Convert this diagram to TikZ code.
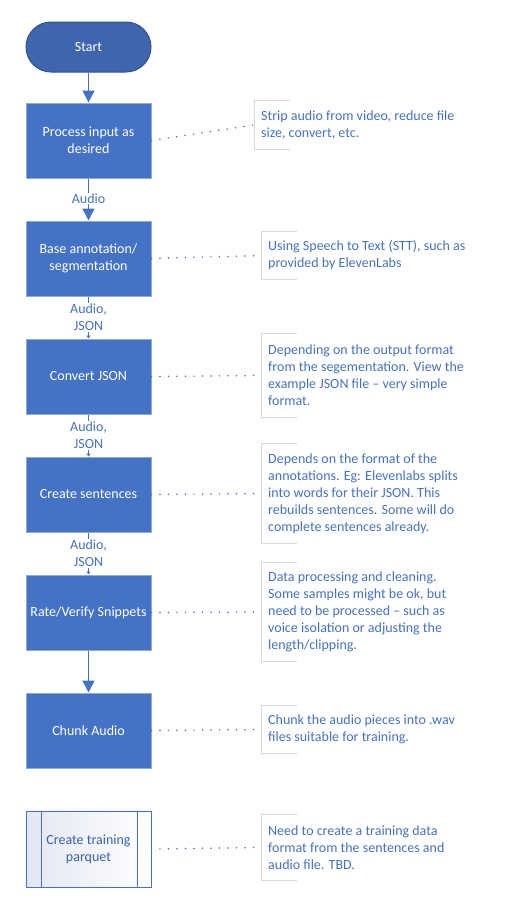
\documentclass[tikz,border=0pt]{standalone}
\usepackage{fontspec}
\setmainfont{Carlito}
\usetikzlibrary{arrows.meta}

\definecolor{boxblue}{HTML}{4472C4}
\definecolor{boxedge}{HTML}{8FAADC}
\definecolor{startblue}{HTML}{3F65AC}
\definecolor{startedge}{HTML}{2F528F}
\definecolor{prefill}{HTML}{E3E7F3}
\definecolor{pretext}{HTML}{3A62B0}
\definecolor{bracketgray}{HTML}{D9D9D9}

\begin{document}
\begin{tikzpicture}[x=1pt,y=-1pt,font=\fontsize{14}{17}\selectfont,
	stepbox/.style={rectangle,minimum width=125pt,minimum height=75pt,inner sep=0pt,
		fill=boxblue,draw=boxedge,line width=1pt,text=white,align=center},
	startbox/.style={rectangle,rounded corners=25pt,minimum width=125pt,minimum height=50pt,
		fill=startblue,draw=startedge,line width=1pt,text=white},
	prebox/.style={rectangle,minimum width=125pt,minimum height=76pt,inner sep=0pt,
		left color=prefill,right color=white,draw=boxblue,line width=1pt,text=pretext,align=center},
	remark/.style={anchor=west,align=left,inner xsep=7pt,inner ysep=0pt,
		minimum height=#1,text=boxblue},
	bracket/.style={draw=bracketgray,line width=1pt},
	flow/.style={draw=boxblue,line width=1.5pt},
	bigtip/.style={-{Triangle[width=12pt,length=12pt]}},
	smalltip/.style={-{Triangle[width=4pt,length=3pt]}},
	datalbl/.style={fill=white,text=boxblue,align=center,inner sep=1pt},
	dots/.style={draw=boxblue,line width=1.7pt,line cap=round,dash pattern=on 0pt off 8.5pt}]
	\useasboundingbox (0,0) rectangle (509,902);

	\node[startbox] (start) at (88.5,47) {Start};
	\node[stepbox] (b1) at (88.5,140.5) {Process input as\\desired};
	\node[stepbox] (b2) at (88.5,258.5) {Base annotation/\\segmentation};
	\node[stepbox] (b3) at (88.5,376.5) {Convert JSON};
	\node[stepbox] (b4) at (88.5,494.5) {Create sentences};
	\node[stepbox] (b5) at (88.5,612.5) {Rate/Verify Snippets};
	\node[stepbox] (b6) at (88.5,730.5) {Chunk Audio};
	\node[prebox] (b7) at (88.5,849) {Create training\\parquet};
	\draw[boxblue,line width=1pt] ([xshift=16pt]b7.north west) -- ([xshift=16pt]b7.south west);
	\draw[boxblue,line width=1pt] ([xshift=-14pt]b7.north east) -- ([xshift=-14pt]b7.south east);

	\draw[flow,bigtip] (start) -- (b1);
	\draw[flow,bigtip] (b1) -- (b2) node[midway,datalbl,yshift=1pt] {Audio};
	\draw[flow,smalltip] (b2) -- (b3) node[midway,datalbl] {Audio,\\JSON};
	\draw[flow,smalltip] (b3) -- (b4) node[midway,datalbl] {Audio,\\JSON};
	\draw[flow,smalltip] (b4) -- (b5) node[midway,datalbl] {Audio,\\JSON};
	\draw[flow,bigtip] (b5) -- (b6);

	\node[remark=48pt] (n1) at (254,125) {Strip audio from video, reduce file\\size, convert, etc.};
	\node[remark=47pt] (n2) at (261,255.5) {Using Speech to Text (STT), such as\\provided by ElevenLabs};
	\node[remark=83pt] (n3) at (261,375.5) {Depending on the output format\\from the segementation. View the\\example JSON file -- very simple\\format.};
	\node[remark=99pt] (n4) at (261,493.5) {Depends on the format of the\\annotations. Eg: Elevenlabs splits\\into words for their JSON. This\\rebuilds sentences. Some will do\\complete sentences already.};
	\node[remark=98pt] (n5) at (261,612) {Data processing and cleaning.\\Some samples might be ok, but\\need to be processed -- such as\\voice isolation or adjusting the\\length/clipping.};
	\node[remark=47pt] (n6) at (261,729.5) {Chunk the audio pieces into .wav\\files suitable for training.};
	\node[remark=65pt] (n7) at (261,847.5) {Need to create a training data\\format from the sentences and\\audio file. TBD.};

	\foreach \n in {n1,n2,n3,n4,n5,n6,n7}
		\draw[bracket] ([xshift=36pt]\n.north west) -- (\n.north west) -- (\n.south west) -- ([xshift=36pt]\n.south west);

	\draw[dots] (b1.east) -- (n1.west);
	\draw[dots] (b2.east) -- (n2.west);
	\draw[dots] (b3.east) -- (n3.west);
	\draw[dots] (b4.east) -- (n4.west);
	\draw[dots] (b5.east) -- (n5.west);
	\draw[dots] (b6.east) -- (n6.west);
	\draw[dots] (b7.east) -- (n7.west);
\end{tikzpicture}
\end{document}
